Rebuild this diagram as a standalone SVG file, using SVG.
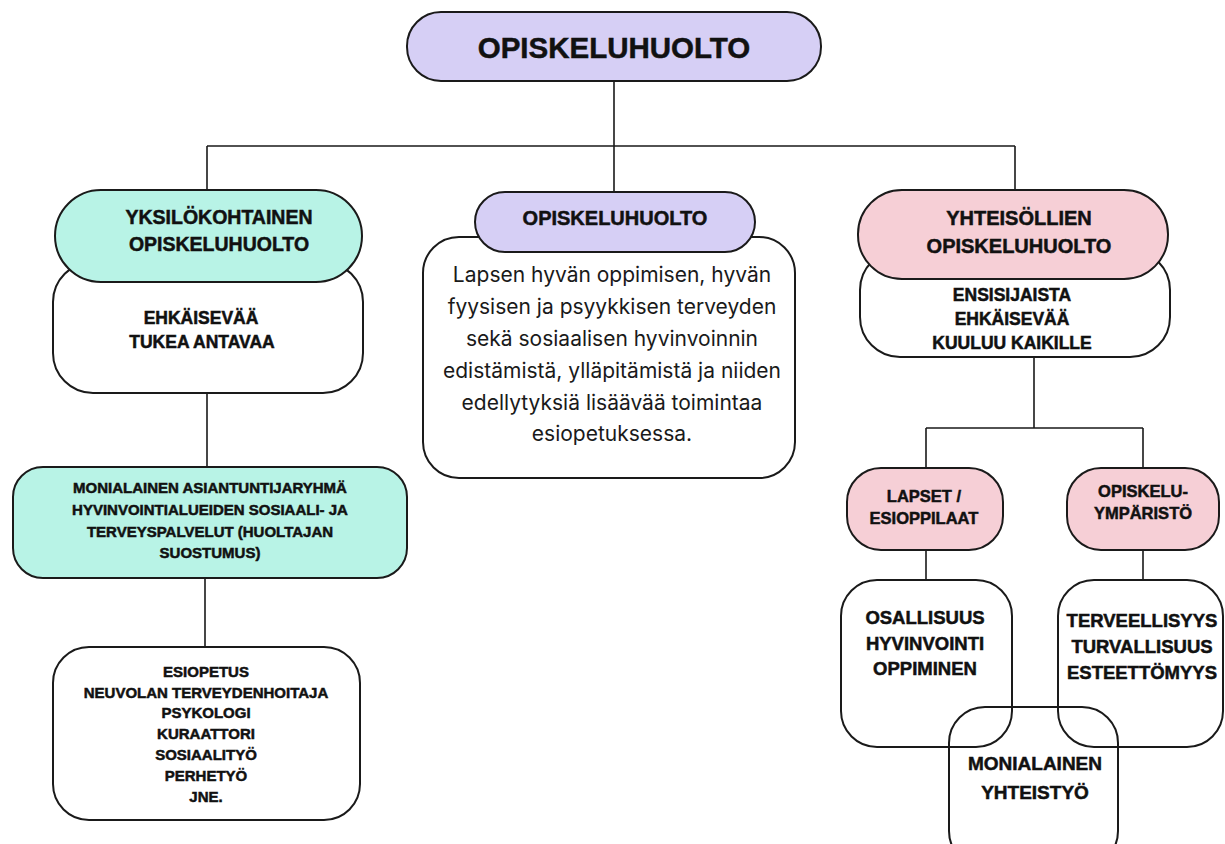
<svg xmlns="http://www.w3.org/2000/svg" width="1225" height="844" viewBox="0 0 1225 844">
<style>
.box{stroke:#1a1a1a;stroke-width:2}
.lav{fill:#d6cff5}.mint{fill:#b8f3e6}.pink{fill:#f6cfd6}.wht{fill:#ffffff}.none{fill:none}
.b{font-family:"Liberation Sans",Arial,sans-serif;font-weight:bold;fill:#111;stroke:#111;stroke-width:0.5;text-anchor:middle}
.n{font-family:Inter,Roboto,"Noto Sans",sans-serif;fill:#1a1a1a;text-anchor:middle}
.c{stroke:#1a1a1a;stroke-width:1.6;fill:none}
</style>
<rect width="1225" height="844" fill="#ffffff"/>
<g id="connectors">
<path class="c" d="M614 81V146M207 146H1015M207 146V190M614 146V192M1015 146V192"/>
<path class="c" d="M207 393V468M205 578V647"/>
<path class="c" d="M1034 357V428M926 428H1143M926 428V468M1143 428V468M926 550V580M1143 550V580"/>
</g>
<g id="root">
<rect class="box lav" x="407" y="12" width="414" height="69" rx="34"/>
<text class="b" x="614" y="58" font-size="29.5">OPISKELUHUOLTO</text>
</g>
<g id="yksilo">
<rect class="box wht" x="53" y="262" width="310" height="131" rx="40"/>
<rect class="box mint" x="55" y="190" width="307" height="92" rx="46"/>
<text class="b" x="219" y="224" font-size="19.5">YKSILÖKOHTAINEN</text>
<text class="b" x="219" y="251" font-size="19.5">OPISKELUHUOLTO</text>
<text class="b" x="201" y="324" font-size="17.5">EHKÄISEVÄÄ</text>
<text class="b" x="202" y="348" font-size="17.5">TUKEA ANTAVAA</text>
</g>
<g id="monialainen-ryhma">
<rect class="box mint" x="13" y="467" width="394" height="111" rx="30"/>
<text class="b" x="210" y="493" font-size="15">MONIALAINEN ASIANTUNTIJARYHMÄ</text>
<text class="b" x="210" y="515" font-size="15">HYVINVOINTIALUEIDEN SOSIAALI- JA</text>
<text class="b" x="210" y="537" font-size="15">TERVEYSPALVELUT (HUOLTAJAN</text>
<text class="b" x="210" y="558" font-size="15">SUOSTUMUS)</text>
</g>
<g id="palvelut">
<rect class="box wht" x="53" y="647" width="307" height="173" rx="36"/>
<text class="b" x="206" y="677" font-size="15">ESIOPETUS</text>
<text class="b" x="206" y="698" font-size="15">NEUVOLAN TERVEYDENHOITAJA</text>
<text class="b" x="206" y="718" font-size="15">PSYKOLOGI</text>
<text class="b" x="206" y="739" font-size="15">KURAATTORI</text>
<text class="b" x="206" y="760" font-size="15">SOSIAALITYÖ</text>
<text class="b" x="206" y="781" font-size="15">PERHETYÖ</text>
<text class="b" x="206" y="802" font-size="15">JNE.</text>
</g>
<g id="opiskeluhuolto-kuvaus">
<rect class="box wht" x="423" y="237" width="372" height="241" rx="36"/>
<rect class="box lav" x="475" y="192" width="280" height="60" rx="30"/>
<text class="b" x="615" y="225" font-size="20">OPISKELUHUOLTO</text>
<text class="n" x="612" y="282" font-size="21">Lapsen hyvän oppimisen, hyvän</text>
<text class="n" x="612" y="314" font-size="21">fyysisen ja psyykkisen terveyden</text>
<text class="n" x="612" y="346" font-size="21">sekä sosiaalisen hyvinvoinnin</text>
<text class="n" x="612" y="378" font-size="21">edistämistä, ylläpitämistä ja niiden</text>
<text class="n" x="612" y="410" font-size="21">edellytyksiä lisäävää toimintaa</text>
<text class="n" x="612" y="441" font-size="21">esiopetuksessa.</text>
</g>
<g id="yhteisollinen">
<rect class="box wht" x="860" y="250" width="310" height="107" rx="40"/>
<rect class="box pink" x="858" y="190" width="310" height="89" rx="44"/>
<text class="b" x="1019" y="225" font-size="20">YHTEISÖLLIEN</text>
<text class="b" x="1019" y="253" font-size="20">OPISKELUHUOLTO</text>
<text class="b" x="1012" y="301" font-size="17.5">ENSISIJAISTA</text>
<text class="b" x="1012" y="325" font-size="17.5">EHKÄISEVÄÄ</text>
<text class="b" x="1012" y="349" font-size="17.5">KUULUU KAIKILLE</text>
</g>
<g id="lapset">
<rect class="box pink" x="847" y="468" width="156" height="82" rx="34"/>
<text class="b" x="924" y="502" font-size="16.5">LAPSET /</text>
<text class="b" x="924" y="524" font-size="16.5">ESIOPPILAAT</text>
</g>
<g id="ymparisto">
<rect class="box pink" x="1067" y="468" width="152" height="82" rx="34"/>
<text class="b" x="1143" y="497" font-size="16.5">OPISKELU-</text>
<text class="b" x="1143" y="519" font-size="16.5">YMPÄRISTÖ</text>
</g>
<g id="osallisuus">
<rect class="box none" x="841" y="580" width="171" height="167" rx="36"/>
<text class="b" x="925" y="624" font-size="18.5">OSALLISUUS</text>
<text class="b" x="925" y="650" font-size="18.5">HYVINVOINTI</text>
<text class="b" x="925" y="675" font-size="18.5">OPPIMINEN</text>
</g>
<g id="terveellisyys">
<rect class="box none" x="1058" y="580" width="165" height="167" rx="36"/>
<text class="b" x="1142" y="627" font-size="18.5">TERVEELLISYYS</text>
<text class="b" x="1142" y="653" font-size="18.5">TURVALLISUUS</text>
<text class="b" x="1142" y="679" font-size="18.5">ESTEETTÖMYYS</text>
</g>
<g id="yhteistyo">
<rect class="box none" x="949" y="707" width="169" height="160" rx="36"/>
<text class="b" x="1035" y="770" font-size="19">MONIALAINEN</text>
<text class="b" x="1035" y="799" font-size="19">YHTEISTYÖ</text>
</g>
</svg>
